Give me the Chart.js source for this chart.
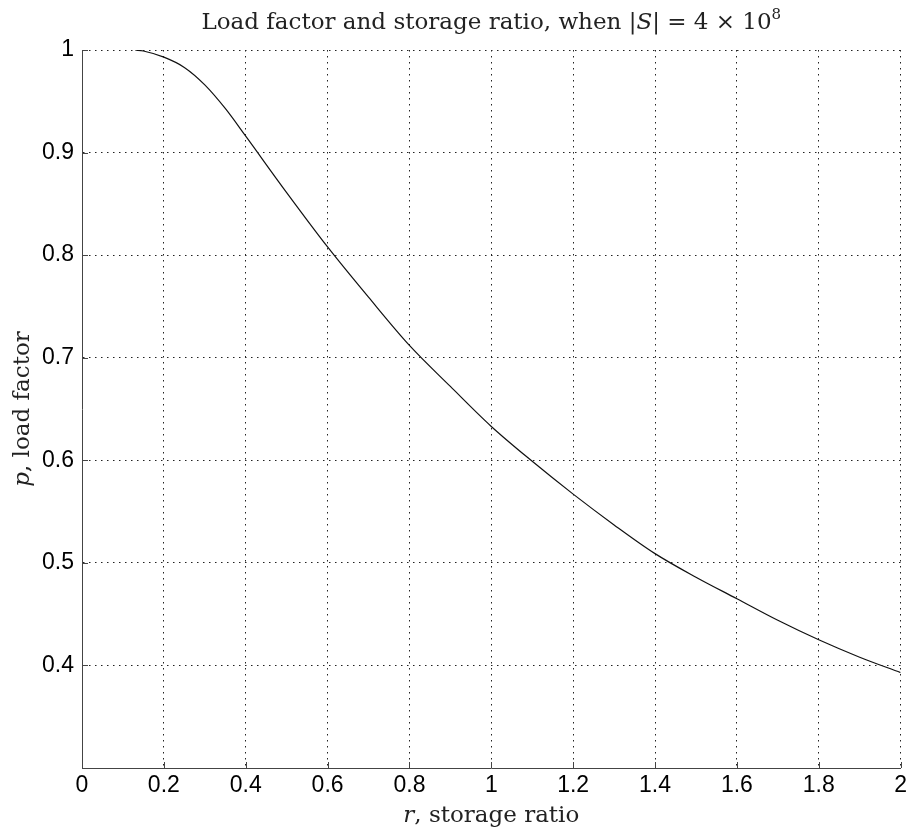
<!DOCTYPE html>
<html>
<head>
<meta charset="utf-8">
<title>Load factor and storage ratio</title>
<script src="https://cdn.jsdelivr.net/npm/chart.js@4"></script>
<style>
  html, body { margin: 0; padding: 0; background: #fff; }
  #wrap { width: 911px; height: 832px; }
</style>
</head>
<body>
<div id="wrap"><canvas id="chart" width="911" height="832"></canvas></div>
<script>
// storage ratio r and load factor p
const ratio = [0.13, 0.15, 0.2, 0.25, 0.3, 0.35, 0.4, 0.5, 0.6, 0.7, 0.8, 0.9, 1.0,
               1.1, 1.2, 1.3, 1.4, 1.5, 1.6, 1.7, 1.8, 1.9, 2.0];
const loadFactor = [1.0, 0.999, 0.993, 0.983, 0.966, 0.943, 0.916, 0.861, 0.808, 0.759, 0.712, 0.672, 0.633,
                    0.599, 0.567, 0.537, 0.509, 0.486, 0.465, 0.444, 0.425, 0.408, 0.393];
const xTicks = [0, 0.2, 0.4, 0.6, 0.8, 1, 1.2, 1.4, 1.6, 1.8, 2];
const yTicks = [0.4, 0.5, 0.6, 0.7, 0.8, 0.9, 1];

const serif = '"DejaVu Serif", "Liberation Serif", serif';
const sans = '"Liberation Sans", Arial, sans-serif';

function drawRuns(ctx, runs, x, y, align) {
    // runs: [{text, font, dy}]
    let total = 0;
    runs.forEach(r => { ctx.font = r.font; total += ctx.measureText(r.text).width; });
    let cx = align === 'center' ? x - total / 2 : x;
    ctx.textBaseline = 'alphabetic';
    ctx.textAlign = 'left';
    runs.forEach(r => {
        ctx.font = r.font;
        ctx.fillText(r.text, cx, y + (r.dy || 0));
        cx += ctx.measureText(r.text).width;
    });
}

// titles with italic symbols, and matlab-style inward ticks
const labelsPlugin = {
    id: 'labels',
    afterDraw(chart) {
        const ctx = chart.ctx;
        const area = chart.chartArea;
        const xs = chart.scales.x, ys = chart.scales.y;
        ctx.save();
        ctx.strokeStyle = '#444';
        ctx.lineWidth = 1;
        ctx.setLineDash([]);
        ctx.beginPath();
        xTicks.forEach(v => {
            const px = Math.round(xs.getPixelForValue(v)) + 0.5;
            ctx.moveTo(px, area.bottom);
            ctx.lineTo(px, area.bottom - 6);
        });
        yTicks.forEach(v => {
            const py = Math.round(ys.getPixelForValue(v)) + 0.5;
            ctx.moveTo(area.left, py);
            ctx.lineTo(area.left + 6, py);
        });
        ctx.stroke();

        ctx.fillStyle = '#222';
        const mid = (area.left + area.right) / 2;
        drawRuns(ctx, [
            { text: 'Load factor and storage ratio, when |', font: '23px ' + serif },
            { text: 'S', font: 'italic 23px ' + serif },
            { text: '| = 4 × 10', font: '23px ' + serif },
            { text: '8', font: '15px ' + serif, dy: -10 }
        ], mid, 29, 'center');

        drawRuns(ctx, [
            { text: 'r', font: 'italic 23px ' + serif },
            { text: ', storage ratio', font: '23px ' + serif }
        ], mid, 822, 'center');

        ctx.translate(29, (area.top + area.bottom) / 2);
        ctx.rotate(-Math.PI / 2);
        drawRuns(ctx, [
            { text: 'p', font: 'italic 23px ' + serif },
            { text: ', load factor', font: '23px ' + serif }
        ], 0, 0, 'center');
        ctx.restore();
    }
};

const ctx = document.getElementById('chart').getContext('2d');
new Chart(ctx, {
    type: 'line',
    data: {
        datasets: [{
            data: ratio.map((r, i) => ({ x: r, y: loadFactor[i] })),
            borderColor: '#111',
            borderWidth: 1.2,
            pointRadius: 0,
            fill: false,
            cubicInterpolationMode: 'monotone'
        }]
    },
    options: {
        responsive: false,
        animation: false,
        layout: { padding: { top: 50, right: 10, bottom: 0, left: 0 } },
        plugins: {
            legend: { display: false },
            tooltip: { enabled: false }
        },
        scales: {
            x: {
                type: 'linear',
                min: 0,
                max: 2,
                afterFit: s => { s.height = 64; },
                afterBuildTicks: s => { s.ticks = xTicks.map(v => ({ value: v })); },
                ticks: {
                    color: '#000',
                    font: { family: sans, size: 23 },
                    padding: 4,
                    maxRotation: 0,
                    callback: v => String(v)
                },
                grid: {
                    drawTicks: false,
                    color: c => (c.tick && c.tick.value === 0) ? 'rgba(0,0,0,0)' : '#222',
                    lineWidth: 1
                },
                border: { display: true, color: '#444', width: 1, dash: [1.5, 4.5] }
            },
            y: {
                min: 0.3,
                max: 1,
                afterFit: s => { s.width = 82; },
                afterBuildTicks: s => { s.ticks = yTicks.map(v => ({ value: v })); },
                ticks: {
                    color: '#000',
                    font: { family: sans, size: 23 },
                    padding: 8,
                    callback: v => String(Math.round(v * 10) / 10)
                },
                grid: {
                    drawTicks: false,
                    color: '#222',
                    lineWidth: 1
                },
                border: { display: true, color: '#444', width: 1, dash: [1.5, 4.5] }
            }
        }
    },
    plugins: [labelsPlugin]
});
</script>
</body>
</html>
